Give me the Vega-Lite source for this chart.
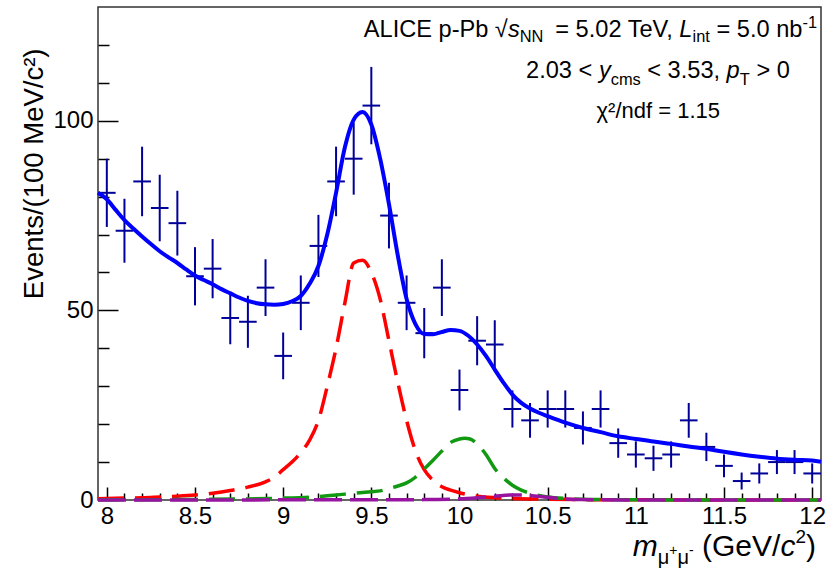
{
  "$schema": "https://vega.github.io/schema/vega-lite/v6.json",
  "width": 723,
  "height": 493,
  "autosize": {"type": "none"},
  "padding": {"left": 98, "top": 7, "right": 6, "bottom": 68},
  "background": "white",
  "config": {
    "view": {"stroke": "#333333", "strokeWidth": 1.5},
    "axis": {"grid": false, "domain": false, "labelFont": "Liberation Sans", "titleFont": "Liberation Sans", "labelColor": "black", "tickColor": "black", "titleColor": "black"},
    "text": {"font": "Liberation Sans", "color": "black"}
  },
  "datasets": {
    "pts": [
      {"m": 8.0, "b0": 7.95, "b1": 8.05, "n": 81, "err": 9.0}, {"m": 8.1, "b0": 8.05, "b1": 8.15, "n": 71, "err": 8.43},
      {"m": 8.2, "b0": 8.15, "b1": 8.25, "n": 84, "err": 9.17}, {"m": 8.3, "b0": 8.25, "b1": 8.35, "n": 77, "err": 8.77},
      {"m": 8.4, "b0": 8.35, "b1": 8.45, "n": 73, "err": 8.54}, {"m": 8.5, "b0": 8.45, "b1": 8.55, "n": 59, "err": 7.68},
      {"m": 8.6, "b0": 8.55, "b1": 8.65, "n": 61, "err": 7.81}, {"m": 8.7, "b0": 8.65, "b1": 8.75, "n": 48, "err": 6.93},
      {"m": 8.8, "b0": 8.75, "b1": 8.85, "n": 47, "err": 6.86}, {"m": 8.9, "b0": 8.85, "b1": 8.95, "n": 56, "err": 7.48},
      {"m": 9.0, "b0": 8.95, "b1": 9.05, "n": 38, "err": 6.16}, {"m": 9.1, "b0": 9.05, "b1": 9.15, "n": 52, "err": 7.21},
      {"m": 9.2, "b0": 9.15, "b1": 9.25, "n": 67, "err": 8.19}, {"m": 9.3, "b0": 9.25, "b1": 9.35, "n": 84, "err": 9.17},
      {"m": 9.4, "b0": 9.35, "b1": 9.45, "n": 90, "err": 9.49}, {"m": 9.5, "b0": 9.45, "b1": 9.55, "n": 104, "err": 10.2},
      {"m": 9.6, "b0": 9.55, "b1": 9.65, "n": 75, "err": 8.66}, {"m": 9.7, "b0": 9.65, "b1": 9.75, "n": 52, "err": 7.21},
      {"m": 9.8, "b0": 9.75, "b1": 9.85, "n": 44, "err": 6.63}, {"m": 9.9, "b0": 9.85, "b1": 9.95, "n": 56, "err": 7.48},
      {"m": 10.0, "b0": 9.95, "b1": 10.05, "n": 29, "err": 5.39}, {"m": 10.1, "b0": 10.05, "b1": 10.15, "n": 42, "err": 6.48},
      {"m": 10.2, "b0": 10.15, "b1": 10.25, "n": 41, "err": 6.4}, {"m": 10.3, "b0": 10.25, "b1": 10.35, "n": 24, "err": 4.9},
      {"m": 10.4, "b0": 10.35, "b1": 10.45, "n": 21, "err": 4.58}, {"m": 10.5, "b0": 10.45, "b1": 10.55, "n": 24, "err": 4.9},
      {"m": 10.6, "b0": 10.55, "b1": 10.65, "n": 24, "err": 4.9}, {"m": 10.7, "b0": 10.65, "b1": 10.75, "n": 19, "err": 4.36},
      {"m": 10.8, "b0": 10.75, "b1": 10.85, "n": 24, "err": 4.9}, {"m": 10.9, "b0": 10.85, "b1": 10.95, "n": 15, "err": 3.87},
      {"m": 11.0, "b0": 10.95, "b1": 11.05, "n": 12, "err": 3.46}, {"m": 11.1, "b0": 11.05, "b1": 11.15, "n": 11, "err": 3.32},
      {"m": 11.2, "b0": 11.15, "b1": 11.25, "n": 12, "err": 3.46}, {"m": 11.3, "b0": 11.25, "b1": 11.35, "n": 21, "err": 4.58},
      {"m": 11.4, "b0": 11.35, "b1": 11.45, "n": 14, "err": 3.74}, {"m": 11.5, "b0": 11.45, "b1": 11.55, "n": 9, "err": 3.0},
      {"m": 11.6, "b0": 11.55, "b1": 11.65, "n": 5, "err": 2.24}, {"m": 11.7, "b0": 11.65, "b1": 11.75, "n": 7, "err": 2.65},
      {"m": 11.8, "b0": 11.75, "b1": 11.85, "n": 10, "err": 3.16}, {"m": 11.9, "b0": 11.85, "b1": 11.95, "n": 10, "err": 3.16},
      {"m": 12.0, "b0": 11.95, "b1": 12.05, "n": 7, "err": 2.65}
    ],
    "total": [
      {"x": 7.95, "y": 81.0}, {"x": 8.0, "y": 79.3}, {"x": 8.05, "y": 76.5}, {"x": 8.1, "y": 73.8}, {"x": 8.15, "y": 71.6}, {"x": 8.2, "y": 69.5},
      {"x": 8.25, "y": 67.5}, {"x": 8.3, "y": 65.6}, {"x": 8.35, "y": 64.0}, {"x": 8.4, "y": 62.5}, {"x": 8.45, "y": 60.8}, {"x": 8.5, "y": 59.2},
      {"x": 8.55, "y": 58.0}, {"x": 8.6, "y": 56.9}, {"x": 8.65, "y": 55.6}, {"x": 8.7, "y": 54.5}, {"x": 8.75, "y": 53.4}, {"x": 8.8, "y": 52.5},
      {"x": 8.85, "y": 51.9}, {"x": 8.9, "y": 51.6}, {"x": 8.95, "y": 51.5}, {"x": 9.0, "y": 51.7}, {"x": 9.05, "y": 52.4}, {"x": 9.1, "y": 53.8},
      {"x": 9.15, "y": 57.0}, {"x": 9.2, "y": 61.7}, {"x": 9.25, "y": 70.0}, {"x": 9.3, "y": 81.0}, {"x": 9.35, "y": 93.0}, {"x": 9.4, "y": 100.3},
      {"x": 9.45, "y": 102.3}, {"x": 9.5, "y": 99.0}, {"x": 9.55, "y": 90.0}, {"x": 9.6, "y": 78.0}, {"x": 9.65, "y": 64.5}, {"x": 9.7, "y": 53.0},
      {"x": 9.75, "y": 46.4}, {"x": 9.8, "y": 43.8}, {"x": 9.85, "y": 43.7}, {"x": 9.9, "y": 44.3}, {"x": 9.95, "y": 44.8}, {"x": 10.0, "y": 44.6},
      {"x": 10.05, "y": 43.3}, {"x": 10.1, "y": 41.0}, {"x": 10.15, "y": 38.0}, {"x": 10.2, "y": 34.4}, {"x": 10.25, "y": 30.9}, {"x": 10.3, "y": 27.8},
      {"x": 10.35, "y": 25.6}, {"x": 10.4, "y": 24.1}, {"x": 10.45, "y": 23.0}, {"x": 10.5, "y": 22.1}, {"x": 10.6, "y": 20.4}, {"x": 10.7, "y": 19.0},
      {"x": 10.8, "y": 17.9}, {"x": 10.9, "y": 16.8}, {"x": 11.0, "y": 16.1}, {"x": 11.1, "y": 15.4}, {"x": 11.2, "y": 14.8}, {"x": 11.3, "y": 14.1},
      {"x": 11.4, "y": 13.5}, {"x": 11.5, "y": 12.7}, {"x": 11.6, "y": 12.0}, {"x": 11.7, "y": 11.4}, {"x": 11.8, "y": 10.9}, {"x": 11.9, "y": 10.6},
      {"x": 12.0, "y": 10.4}, {"x": 12.05, "y": 10.1}
    ],
    "ups1": [
      {"x": 7.95, "y": 0.3}, {"x": 8.1, "y": 0.5}, {"x": 8.2, "y": 0.6}, {"x": 8.3, "y": 0.8}, {"x": 8.4, "y": 1.0}, {"x": 8.5, "y": 1.3},
      {"x": 8.6, "y": 1.8}, {"x": 8.7, "y": 2.5}, {"x": 8.8, "y": 3.4}, {"x": 8.9, "y": 4.8}, {"x": 8.95, "y": 6.0}, {"x": 9.0, "y": 8.0},
      {"x": 9.05, "y": 10.0}, {"x": 9.1, "y": 12.5}, {"x": 9.15, "y": 15.8}, {"x": 9.2, "y": 21.0}, {"x": 9.25, "y": 30.0}, {"x": 9.3, "y": 40.0},
      {"x": 9.35, "y": 52.0}, {"x": 9.4, "y": 62.5}, {"x": 9.45, "y": 63.2}, {"x": 9.5, "y": 60.0}, {"x": 9.55, "y": 53.0}, {"x": 9.6, "y": 42.0},
      {"x": 9.65, "y": 31.0}, {"x": 9.7, "y": 21.0}, {"x": 9.75, "y": 13.0}, {"x": 9.8, "y": 8.0}, {"x": 9.85, "y": 5.2}, {"x": 9.9, "y": 3.5},
      {"x": 9.95, "y": 2.6}, {"x": 10.0, "y": 1.9}, {"x": 10.1, "y": 1.0}, {"x": 10.2, "y": 0.6}, {"x": 10.3, "y": 0.4}, {"x": 10.5, "y": 0.2},
      {"x": 10.7, "y": 0.1}, {"x": 11.0, "y": 0.05}, {"x": 12.05, "y": 0.0}
    ],
    "ups2": [
      {"x": 7.95, "y": 0.05}, {"x": 8.5, "y": 0.15}, {"x": 9.0, "y": 0.5}, {"x": 9.2, "y": 0.9}, {"x": 9.3, "y": 1.3}, {"x": 9.4, "y": 1.8},
      {"x": 9.5, "y": 2.2}, {"x": 9.55, "y": 2.4}, {"x": 9.6, "y": 3.0}, {"x": 9.65, "y": 3.7}, {"x": 9.7, "y": 4.5}, {"x": 9.75, "y": 6.0},
      {"x": 9.8, "y": 8.2}, {"x": 9.85, "y": 10.5}, {"x": 9.9, "y": 12.9}, {"x": 9.95, "y": 15.2}, {"x": 10.0, "y": 16.1}, {"x": 10.03, "y": 16.3},
      {"x": 10.06, "y": 16.1}, {"x": 10.1, "y": 14.8}, {"x": 10.15, "y": 12.0}, {"x": 10.2, "y": 8.3}, {"x": 10.25, "y": 5.8}, {"x": 10.3, "y": 3.9},
      {"x": 10.35, "y": 2.6}, {"x": 10.4, "y": 1.8}, {"x": 10.45, "y": 1.2}, {"x": 10.5, "y": 0.8}, {"x": 10.6, "y": 0.4}, {"x": 10.8, "y": 0.1},
      {"x": 11.2, "y": 0.03}, {"x": 12.05, "y": 0.0}
    ],
    "ups3": [
      {"x": 7.95, "y": 0.0}, {"x": 9.8, "y": 0.1}, {"x": 10.0, "y": 0.3}, {"x": 10.1, "y": 0.6}, {"x": 10.2, "y": 1.0}, {"x": 10.3, "y": 1.35},
      {"x": 10.35, "y": 1.35}, {"x": 10.4, "y": 1.2}, {"x": 10.5, "y": 0.7}, {"x": 10.6, "y": 0.3}, {"x": 10.7, "y": 0.1}, {"x": 10.9, "y": 0.02},
      {"x": 12.05, "y": 0.0}
    ]
  },
  "resolve": {"axis": {"x": "independent", "y": "independent"}},
  "layer": [
    {
      "data": {"name": "pts"},
      "mark": {"type": "errorbar", "color": "#000099", "thickness": 2},
      "encoding": {
        "x": {"field": "m", "type": "quantitative", "scale": {"domain": [7.95, 12.05], "nice": false, "zero": false}, "axis": null},
        "y": {"field": "n", "type": "quantitative", "scale": {"domain": [0, 130], "nice": false, "zero": false}, "axis": null},
        "yError": {"field": "err"}
      }
    },
    {
      "data": {"name": "pts"},
      "mark": {"type": "rule", "color": "#000099", "strokeWidth": 2},
      "encoding": {
        "x": {"field": "b0", "type": "quantitative", "scale": {"domain": [7.95, 12.05], "nice": false, "zero": false}, "axis": null},
        "x2": {"field": "b1"},
        "y": {"field": "n", "type": "quantitative", "scale": {"domain": [0, 130], "nice": false, "zero": false}, "axis": null}
      }
    },
    {
      "data": {"name": "total"},
      "mark": {"type": "line", "color": "#0000ff", "strokeWidth": 4, "interpolate": "monotone"},
      "encoding": {
        "x": {"field": "x", "type": "quantitative", "scale": {"domain": [7.95, 12.05], "nice": false, "zero": false},
          "axis": {"orient": "bottom", "values": [8, 8.5, 9, 9.5, 10, 10.5, 11, 11.5, 12], "format": "~g", "tickSize": -13, "tickWidth": 1.5, "labelFontSize": 24, "labelPadding": 17, "labelFlush": false, "labelOverlap": false, "labelBound": false, "title": null, "domain": false, "grid": false}},
        "y": {"field": "y", "type": "quantitative", "scale": {"domain": [0, 130], "nice": false, "zero": false},
          "axis": {"orient": "left", "values": [0, 50, 100], "format": "d", "tickSize": -20, "tickWidth": 1.5, "labelFontSize": 24, "labelPadding": 25, "labelOverlap": false, "labelFlush": false, "labelBound": false,
            "title": "Events/(100 MeV/c²)", "titleFontSize": 27.5, "titleFontWeight": "normal", "titleAngle": -90, "titleAlign": "right", "titleBaseline": "alphabetic", "titleX": -56, "titleY": 41, "domain": false, "grid": false}}
      }
    },
    {
      "data": {"name": "ups1"},
      "mark": {"type": "line", "color": "#ff0000", "strokeWidth": 3.5, "strokeDash": [26, 11], "interpolate": "monotone"},
      "encoding": {
        "x": {"field": "x", "type": "quantitative", "scale": {"domain": [7.95, 12.05], "nice": false, "zero": false},
          "axis": {"orient": "bottom", "values": [8.1, 8.2, 8.3, 8.4, 8.6, 8.7, 8.8, 8.9, 9.1, 9.2, 9.3, 9.4, 9.6, 9.7, 9.8, 9.9, 10.1, 10.2, 10.3, 10.4, 10.6, 10.7, 10.8, 10.9, 11.1, 11.2, 11.3, 11.4, 11.6, 11.7, 11.8, 11.9], "tickSize": -7, "tickWidth": 1.5, "labels": false, "title": null, "domain": false, "grid": false}},
        "y": {"field": "y", "type": "quantitative", "scale": {"domain": [0, 130], "nice": false, "zero": false},
          "axis": {"orient": "left", "values": [10, 20, 30, 40, 60, 70, 80, 90, 110, 120], "tickSize": -11, "tickWidth": 1.5, "labels": false, "title": null, "domain": false, "grid": false}}
      }
    },
    {
      "data": {"name": "ups2"},
      "mark": {"type": "line", "color": "#119911", "strokeWidth": 3.5, "strokeDash": [26, 11], "interpolate": "monotone"},
      "encoding": {
        "x": {"field": "x", "type": "quantitative", "scale": {"domain": [7.95, 12.05], "nice": false, "zero": false}, "axis": null},
        "y": {"field": "y", "type": "quantitative", "scale": {"domain": [0, 130], "nice": false, "zero": false}, "axis": null}
      }
    },
    {
      "data": {"name": "ups3"},
      "mark": {"type": "line", "color": "#9614a0", "strokeWidth": 3.5, "strokeDash": [28, 8], "interpolate": "monotone"},
      "encoding": {
        "x": {"field": "x", "type": "quantitative", "scale": {"domain": [7.95, 12.05], "nice": false, "zero": false}, "axis": null},
        "y": {"field": "y", "type": "quantitative", "scale": {"domain": [0, 130], "nice": false, "zero": false}, "axis": null}
      }
    },
    {"data": {"values": [{}]}, "mark": {"type": "text", "text": "ALICE p-Pb", "fontSize": 23.6, "align": "right", "baseline": "alphabetic", "dx": -332.6},
      "encoding": {"x": {"datum": 12.05, "type": "quantitative", "scale": {"domain": [7.95, 12.05], "nice": false, "zero": false}, "axis": null}, "y": {"datum": 122.1, "type": "quantitative", "scale": {"domain": [0, 130], "nice": false, "zero": false}, "axis": null}}},
    {"data": {"values": [{}]}, "mark": {"type": "text", "text": "√", "fontSize": 23.6, "align": "right", "baseline": "alphabetic", "dx": -313.2},
      "encoding": {"x": {"datum": 12.05, "type": "quantitative", "scale": {"domain": [7.95, 12.05], "nice": false, "zero": false}, "axis": null}, "y": {"datum": 122.1, "type": "quantitative", "scale": {"domain": [0, 130], "nice": false, "zero": false}, "axis": null}}},
    {"data": {"values": [{}]}, "mark": {"type": "text", "text": "s", "fontSize": 23.6, "fontStyle": "italic", "align": "right", "baseline": "alphabetic", "dx": -301.3},
      "encoding": {"x": {"datum": 12.05, "type": "quantitative", "scale": {"domain": [7.95, 12.05], "nice": false, "zero": false}, "axis": null}, "y": {"datum": 122.1, "type": "quantitative", "scale": {"domain": [0, 130], "nice": false, "zero": false}, "axis": null}}},
    {"data": {"values": [{}]}, "mark": {"type": "text", "text": "NN", "fontSize": 16.4, "align": "right", "baseline": "alphabetic", "dx": -277.6, "dy": 5},
      "encoding": {"x": {"datum": 12.05, "type": "quantitative", "scale": {"domain": [7.95, 12.05], "nice": false, "zero": false}, "axis": null}, "y": {"datum": 122.1, "type": "quantitative", "scale": {"domain": [0, 130], "nice": false, "zero": false}, "axis": null}}},
    {"data": {"values": [{}]}, "mark": {"type": "text", "text": "= 5.02 TeV,", "fontSize": 23.6, "align": "right", "baseline": "alphabetic", "dx": -148.3},
      "encoding": {"x": {"datum": 12.05, "type": "quantitative", "scale": {"domain": [7.95, 12.05], "nice": false, "zero": false}, "axis": null}, "y": {"datum": 122.1, "type": "quantitative", "scale": {"domain": [0, 130], "nice": false, "zero": false}, "axis": null}}},
    {"data": {"values": [{}]}, "mark": {"type": "text", "text": "L", "fontSize": 23.6, "fontStyle": "italic", "align": "right", "baseline": "alphabetic", "dx": -128.6},
      "encoding": {"x": {"datum": 12.05, "type": "quantitative", "scale": {"domain": [7.95, 12.05], "nice": false, "zero": false}, "axis": null}, "y": {"datum": 122.1, "type": "quantitative", "scale": {"domain": [0, 130], "nice": false, "zero": false}, "axis": null}}},
    {"data": {"values": [{}]}, "mark": {"type": "text", "text": "int", "fontSize": 16.4, "align": "right", "baseline": "alphabetic", "dx": -111.2, "dy": 5},
      "encoding": {"x": {"datum": 12.05, "type": "quantitative", "scale": {"domain": [7.95, 12.05], "nice": false, "zero": false}, "axis": null}, "y": {"datum": 122.1, "type": "quantitative", "scale": {"domain": [0, 130], "nice": false, "zero": false}, "axis": null}}},
    {"data": {"values": [{}]}, "mark": {"type": "text", "text": "= 5.0 nb", "fontSize": 23.6, "align": "right", "baseline": "alphabetic", "dx": -18.6},
      "encoding": {"x": {"datum": 12.05, "type": "quantitative", "scale": {"domain": [7.95, 12.05], "nice": false, "zero": false}, "axis": null}, "y": {"datum": 122.1, "type": "quantitative", "scale": {"domain": [0, 130], "nice": false, "zero": false}, "axis": null}}},
    {"data": {"values": [{}]}, "mark": {"type": "text", "text": "-1", "fontSize": 16.4, "align": "right", "baseline": "alphabetic", "dx": -4, "dy": -9},
      "encoding": {"x": {"datum": 12.05, "type": "quantitative", "scale": {"domain": [7.95, 12.05], "nice": false, "zero": false}, "axis": null}, "y": {"datum": 122.1, "type": "quantitative", "scale": {"domain": [0, 130], "nice": false, "zero": false}, "axis": null}}},
    {"data": {"values": [{}]}, "mark": {"type": "text", "text": "2.03 <", "fontSize": 23.6, "align": "right", "baseline": "alphabetic", "dx": -228.7},
      "encoding": {"x": {"datum": 12.05, "type": "quantitative", "scale": {"domain": [7.95, 12.05], "nice": false, "zero": false}, "axis": null}, "y": {"datum": 111.3, "type": "quantitative", "scale": {"domain": [0, 130], "nice": false, "zero": false}, "axis": null}}},
    {"data": {"values": [{}]}, "mark": {"type": "text", "text": "y", "fontSize": 23.6, "fontStyle": "italic", "align": "right", "baseline": "alphabetic", "dx": -210.3},
      "encoding": {"x": {"datum": 12.05, "type": "quantitative", "scale": {"domain": [7.95, 12.05], "nice": false, "zero": false}, "axis": null}, "y": {"datum": 111.3, "type": "quantitative", "scale": {"domain": [0, 130], "nice": false, "zero": false}, "axis": null}}},
    {"data": {"values": [{}]}, "mark": {"type": "text", "text": "cms", "fontSize": 16.4, "align": "right", "baseline": "alphabetic", "dx": -180.2, "dy": 7},
      "encoding": {"x": {"datum": 12.05, "type": "quantitative", "scale": {"domain": [7.95, 12.05], "nice": false, "zero": false}, "axis": null}, "y": {"datum": 111.3, "type": "quantitative", "scale": {"domain": [0, 130], "nice": false, "zero": false}, "axis": null}}},
    {"data": {"values": [{}]}, "mark": {"type": "text", "text": "< 3.53,", "fontSize": 23.6, "align": "right", "baseline": "alphabetic", "dx": -100.9},
      "encoding": {"x": {"datum": 12.05, "type": "quantitative", "scale": {"domain": [7.95, 12.05], "nice": false, "zero": false}, "axis": null}, "y": {"datum": 111.3, "type": "quantitative", "scale": {"domain": [0, 130], "nice": false, "zero": false}, "axis": null}}},
    {"data": {"values": [{}]}, "mark": {"type": "text", "text": "p", "fontSize": 23.6, "fontStyle": "italic", "align": "right", "baseline": "alphabetic", "dx": -81.3},
      "encoding": {"x": {"datum": 12.05, "type": "quantitative", "scale": {"domain": [7.95, 12.05], "nice": false, "zero": false}, "axis": null}, "y": {"datum": 111.3, "type": "quantitative", "scale": {"domain": [0, 130], "nice": false, "zero": false}, "axis": null}}},
    {"data": {"values": [{}]}, "mark": {"type": "text", "text": "T", "fontSize": 16.4, "align": "right", "baseline": "alphabetic", "dx": -71.2, "dy": 7},
      "encoding": {"x": {"datum": 12.05, "type": "quantitative", "scale": {"domain": [7.95, 12.05], "nice": false, "zero": false}, "axis": null}, "y": {"datum": 111.3, "type": "quantitative", "scale": {"domain": [0, 130], "nice": false, "zero": false}, "axis": null}}},
    {"data": {"values": [{}]}, "mark": {"type": "text", "text": "> 0", "fontSize": 23.6, "align": "right", "baseline": "alphabetic", "dx": -31},
      "encoding": {"x": {"datum": 12.05, "type": "quantitative", "scale": {"domain": [7.95, 12.05], "nice": false, "zero": false}, "axis": null}, "y": {"datum": 111.3, "type": "quantitative", "scale": {"domain": [0, 130], "nice": false, "zero": false}, "axis": null}}},
    {"data": {"values": [{}]}, "mark": {"type": "text", "text": "χ²/ndf = 1.15", "fontSize": 22, "align": "right", "baseline": "alphabetic", "dx": -101},
      "encoding": {"x": {"datum": 12.05, "type": "quantitative", "scale": {"domain": [7.95, 12.05], "nice": false, "zero": false}, "axis": null}, "y": {"datum": 100.6, "type": "quantitative", "scale": {"domain": [0, 130], "nice": false, "zero": false}, "axis": null}}},
    {"data": {"values": [{}]}, "mark": {"type": "text", "text": ")", "fontSize": 30, "align": "right", "baseline": "alphabetic", "dx": -5},
      "encoding": {"x": {"datum": 12.05, "type": "quantitative", "scale": {"domain": [7.95, 12.05], "nice": false, "zero": false}, "axis": null}, "y": {"datum": -14.77, "type": "quantitative", "scale": {"domain": [0, 130], "nice": false, "zero": false}, "axis": null}}},
    {"data": {"values": [{}]}, "mark": {"type": "text", "text": "2", "fontSize": 19, "align": "right", "baseline": "alphabetic", "dx": -15, "dy": -13},
      "encoding": {"x": {"datum": 12.05, "type": "quantitative", "scale": {"domain": [7.95, 12.05], "nice": false, "zero": false}, "axis": null}, "y": {"datum": -14.77, "type": "quantitative", "scale": {"domain": [0, 130], "nice": false, "zero": false}, "axis": null}}},
    {"data": {"values": [{}]}, "mark": {"type": "text", "text": "c", "fontSize": 30, "fontStyle": "italic", "align": "right", "baseline": "alphabetic", "dx": -25.6},
      "encoding": {"x": {"datum": 12.05, "type": "quantitative", "scale": {"domain": [7.95, 12.05], "nice": false, "zero": false}, "axis": null}, "y": {"datum": -14.77, "type": "quantitative", "scale": {"domain": [0, 130], "nice": false, "zero": false}, "axis": null}}},
    {"data": {"values": [{}]}, "mark": {"type": "text", "text": "(GeV/", "fontSize": 30, "align": "right", "baseline": "alphabetic", "dx": -40.6},
      "encoding": {"x": {"datum": 12.05, "type": "quantitative", "scale": {"domain": [7.95, 12.05], "nice": false, "zero": false}, "axis": null}, "y": {"datum": -14.77, "type": "quantitative", "scale": {"domain": [0, 130], "nice": false, "zero": false}, "axis": null}}},
    {"data": {"values": [{}]}, "mark": {"type": "text", "text": "-", "fontSize": 14, "align": "right", "baseline": "alphabetic", "dx": -127.3, "dy": -1},
      "encoding": {"x": {"datum": 12.05, "type": "quantitative", "scale": {"domain": [7.95, 12.05], "nice": false, "zero": false}, "axis": null}, "y": {"datum": -14.77, "type": "quantitative", "scale": {"domain": [0, 130], "nice": false, "zero": false}, "axis": null}}},
    {"data": {"values": [{}]}, "mark": {"type": "text", "text": "μ", "fontSize": 20, "align": "right", "baseline": "alphabetic", "dx": -132, "dy": 8},
      "encoding": {"x": {"datum": 12.05, "type": "quantitative", "scale": {"domain": [7.95, 12.05], "nice": false, "zero": false}, "axis": null}, "y": {"datum": -14.77, "type": "quantitative", "scale": {"domain": [0, 130], "nice": false, "zero": false}, "axis": null}}},
    {"data": {"values": [{}]}, "mark": {"type": "text", "text": "+", "fontSize": 14, "align": "right", "baseline": "alphabetic", "dx": -143.5, "dy": -1},
      "encoding": {"x": {"datum": 12.05, "type": "quantitative", "scale": {"domain": [7.95, 12.05], "nice": false, "zero": false}, "axis": null}, "y": {"datum": -14.77, "type": "quantitative", "scale": {"domain": [0, 130], "nice": false, "zero": false}, "axis": null}}},
    {"data": {"values": [{}]}, "mark": {"type": "text", "text": "μ", "fontSize": 20, "align": "right", "baseline": "alphabetic", "dx": -151.7, "dy": 8},
      "encoding": {"x": {"datum": 12.05, "type": "quantitative", "scale": {"domain": [7.95, 12.05], "nice": false, "zero": false}, "axis": null}, "y": {"datum": -14.77, "type": "quantitative", "scale": {"domain": [0, 130], "nice": false, "zero": false}, "axis": null}}},
    {"data": {"values": [{}]}, "mark": {"type": "text", "text": "m", "fontSize": 30, "fontStyle": "italic", "align": "right", "baseline": "alphabetic", "dx": -163.2},
      "encoding": {"x": {"datum": 12.05, "type": "quantitative", "scale": {"domain": [7.95, 12.05], "nice": false, "zero": false}, "axis": null}, "y": {"datum": -14.77, "type": "quantitative", "scale": {"domain": [0, 130], "nice": false, "zero": false}, "axis": null}}}
  ]
}
